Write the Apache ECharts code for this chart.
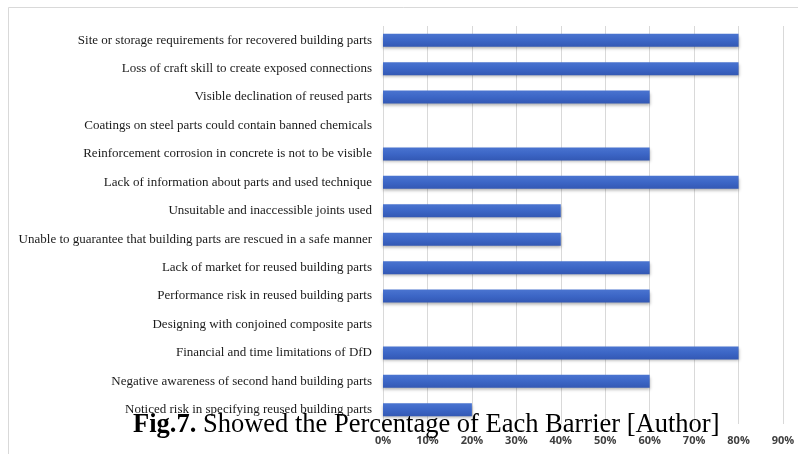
<!DOCTYPE html>
<html>
<head>
<meta charset="utf-8">
<script src="https://cdn.jsdelivr.net/npm/echarts@6/dist/echarts.min.js"></script>
<style>
  html, body { margin: 0; padding: 0; background: #fff; }
  #chart { width: 798px; height: 454px; }
</style>
</head>
<body>
<div id="chart"></div>
<script>
// Barriers, listed top to bottom
const barriers = [
  'Site or storage requirements for recovered building parts',
  'Loss of craft skill to create exposed connections',
  'Visible declination of reused parts',
  'Coatings on steel parts could contain banned chemicals',
  'Reinforcement corrosion in concrete is not to be visible',
  'Lack of information about parts and used technique',
  'Unsuitable and inaccessible joints used',
  'Unable to guarantee that building parts are rescued in a safe manner',
  'Lack of market for reused building parts',
  'Performance risk in reused building parts',
  'Designing with conjoined composite parts',
  'Financial and time limitations of DfD',
  'Negative awareness of second hand building parts',
  'Noticed risk in specifying reused building parts'
];
// Percentage of respondents per barrier
const percentages = [80, 80, 60, 0, 60, 80, 40, 40, 60, 60, 0, 80, 60, 20];
const axisMax = 90;
const axisStep = 10;
const caption = 'Fig.7.';
const captionRest = ' Showed the Percentage of Each Barrier [Author]';

const chart = echarts.init(document.getElementById('chart'));
chart.setOption({
  backgroundColor: '#ffffff',
  animation: false,
  grid: { left: 383, right: 15, top: 26, bottom: 30, containLabel: false },
  xAxis: {
    type: 'value',
    min: 0,
    max: axisMax,
    interval: axisStep,
    axisLine: { show: false },
    axisTick: { show: false },
    splitLine: { show: true, lineStyle: { color: '#d9d9d9', width: 1 } },
    axisLabel: {
      formatter: '{value}%',
      color: '#404040',
      fontFamily: 'Open Sans',
      fontWeight: 'bold',
      fontSize: 11,
      margin: 11
    }
  },
  yAxis: {
    type: 'category',
    data: barriers,
    inverse: true,
    axisLine: { show: false },
    axisTick: { show: false },
    axisLabel: {
      color: '#1a1a1a',
      fontFamily: 'Liberation Serif',
      fontSize: 13,
      margin: 11
    }
  },
  series: [{
    type: 'bar',
    data: percentages,
    barWidth: 13,
    itemStyle: {
      color: new echarts.graphic.LinearGradient(0, 0, 0, 1, [
        { offset: 0, color: '#4a74d0' },
        { offset: 0.5, color: '#3c66c6' },
        { offset: 1, color: '#3358b4' }
      ]),
      shadowColor: 'rgba(0,0,0,0.3)',
      shadowBlur: 3,
      shadowOffsetY: 2
    }
  }],
  graphic: [
    {
      type: 'polyline',
      silent: true,
      shape: { points: [[8.5, 454], [8.5, 7.5], [798, 7.5]] },
      style: { stroke: '#d9d9d9', lineWidth: 1, fill: null }
    },
    {
      type: 'text',
      left: 133,
      top: 412,
      z: 10,
      style: {
        text: '{b|' + caption + '}{n|' + captionRest + '}',
        rich: {
          b: { fontFamily: 'Liberation Serif', fontWeight: 'bold', fontSize: 26.5, fill: '#000' },
          n: { fontFamily: 'Liberation Serif', fontSize: 26.5, fill: '#000' }
        }
      }
    }
  ]
});
</script>
</body>
</html>
